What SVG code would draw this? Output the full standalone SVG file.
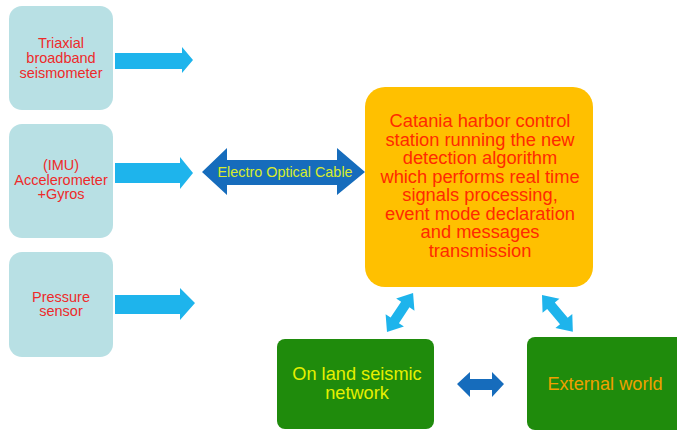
<svg xmlns="http://www.w3.org/2000/svg" width="677" height="431" viewBox="0 0 677 431">
  <style>
    .sensor { fill: #b8e0e4; }
    .sensor-text { font-family: "Liberation Sans", Arial, sans-serif; font-size: 14.5px; fill: #ee2a2a; text-anchor: middle; }
    .station { fill: #ffc000; }
    .station-text { font-family: "Liberation Sans", Arial, sans-serif; font-size: 18.3px; fill: #ff2a00; text-anchor: middle; }
    .land { fill: #1f8b0c; }
    .land-text { font-family: "Liberation Sans", Arial, sans-serif; font-size: 18.2px; fill: #e6f000; text-anchor: middle; }
    .world-text { font-family: "Liberation Sans", Arial, sans-serif; font-size: 18.2px; fill: #f0a000; text-anchor: middle; }
    .cable-text { font-family: "Liberation Sans", Arial, sans-serif; font-size: 14.4px; fill: #d8ec2c; text-anchor: middle; }
    .arrow-light { fill: #1eb4ec; }
    .arrow-dark { fill: #166cbc; }
  </style>

  <rect width="677" height="431" fill="#ffffff"/>

  <!-- sensor nodes -->
  <g id="seismometer">
    <rect class="sensor" x="9" y="6" width="104" height="104" rx="13"/>
    <text class="sensor-text" x="61" y="48">Triaxial</text>
    <text class="sensor-text" x="61" y="63">broadband</text>
    <text class="sensor-text" x="61" y="78">seismometer</text>
  </g>
  <g id="imu">
    <rect class="sensor" x="9" y="124" width="104" height="114" rx="13"/>
    <text class="sensor-text" x="61" y="170">(IMU)</text>
    <text class="sensor-text" x="61" y="185">Accelerometer</text>
    <text class="sensor-text" x="61" y="199">+Gyros</text>
  </g>
  <g id="pressure">
    <rect class="sensor" x="9" y="252" width="104" height="105" rx="13"/>
    <text class="sensor-text" x="61" y="302">Pressure</text>
    <text class="sensor-text" x="61" y="316">sensor</text>
  </g>

  <!-- control station -->
  <g id="station">
    <rect class="station" x="365" y="87" width="228" height="200" rx="20"/>
    <text class="station-text" x="480" y="127">Catania harbor control</text>
    <text class="station-text" x="480" y="145.5">station running the new</text>
    <text class="station-text" x="480" y="164">detection algorithm</text>
    <text class="station-text" x="480" y="182.5">which performs real time</text>
    <text class="station-text" x="480" y="201">signals processing,</text>
    <text class="station-text" x="480" y="219.5">event mode declaration</text>
    <text class="station-text" x="480" y="238">and messages</text>
    <text class="station-text" x="480" y="256.5">transmission</text>
  </g>

  <!-- land network and outside world -->
  <g id="land-network">
    <rect class="land" x="277" y="339" width="157" height="90" rx="8"/>
    <text class="land-text" x="357" y="380">On land seismic</text>
    <text class="land-text" x="357" y="399">network</text>
  </g>
  <g id="external-world">
    <rect class="land" x="527" y="337" width="160" height="93" rx="8"/>
    <text class="world-text" x="605" y="390">External world</text>
  </g>

  <!-- connectors -->
  <g id="connectors">
    <!-- sensor outputs -->
    <polygon class="arrow-light" points="115,53 182,53 182,47 193,60 182,73 182,69 115,69"/>
    <polygon class="arrow-light" points="115,163 180,163 180,157 193,173 180,189 180,183 115,183"/>
    <polygon class="arrow-light" points="115,295 180,295 180,288 195,303 180,320 180,314 115,314"/>

    <!-- electro optical cable -->
    <polygon class="arrow-dark" points="202,172 227,148 227,160 337,160 337,148 365,172 337,195 337,185 227,185 227,195"/>
    <text class="cable-text" x="285" y="177">Electro Optical Cable</text>

    <!-- land network to outside world -->
    <polygon class="arrow-dark" points="457,384 470,372 470,379 492,379 492,372 504,384 492,397 492,390 470,390 470,397"/>

    <!-- station links -->
    <polygon class="arrow-light" transform="translate(387,332) rotate(-56.3)" points="0,0 14,-11 14,-5 33,-5 33,-11 47,0 33,11 33,5 14,5 14,11"/>
    <polygon class="arrow-light" transform="translate(542,295) rotate(50)" points="0,0 14,-11 14,-5 34,-5 34,-11 48,0 34,11 34,5 14,5 14,11"/>
  </g>
</svg>
